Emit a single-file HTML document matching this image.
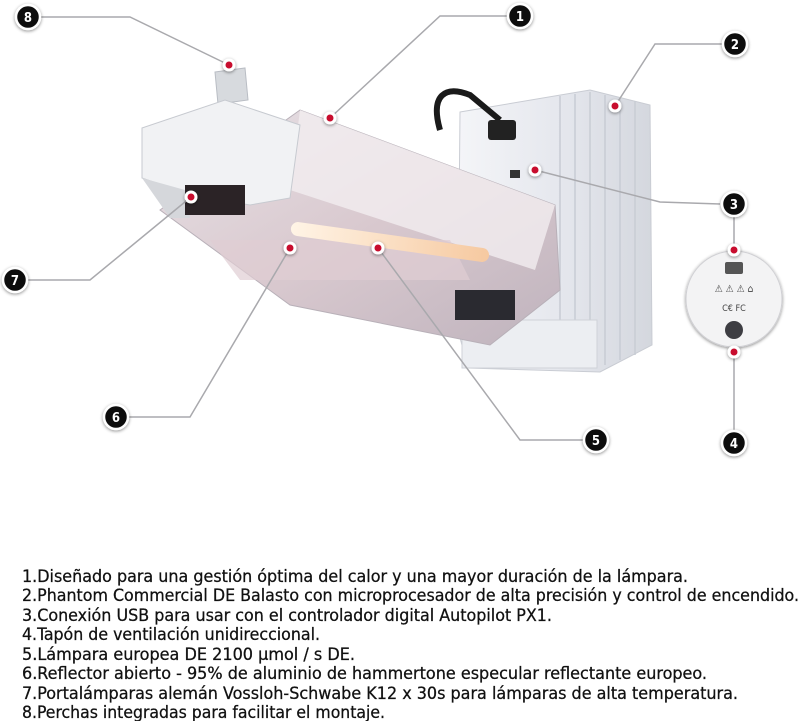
<!DOCTYPE html>
<html><head><meta charset="utf-8"><style>
html,body{margin:0;padding:0;background:#fff}
svg{display:block}
text{font-family:"DejaVu Sans Condensed","Liberation Sans",sans-serif}
</style></head><body>
<svg width="800" height="721" viewBox="0 0 800 721" xmlns="http://www.w3.org/2000/svg">
<defs>
<linearGradient id="bal" x1="0" x2="1"><stop offset="0" stop-color="#f4f5f8"/><stop offset="0.5" stop-color="#e6e8ee"/><stop offset="1" stop-color="#d4d7de"/></linearGradient>
<linearGradient id="refl" x1="0" y1="0" x2="1" y2="1"><stop offset="0" stop-color="#e8e2e6"/><stop offset="0.5" stop-color="#d9c9cf"/><stop offset="1" stop-color="#bfb3bd"/></linearGradient>
<linearGradient id="lamp" x1="0" x2="1"><stop offset="0" stop-color="#fff4e6"/><stop offset="1" stop-color="#f6c9a0"/></linearGradient>
<filter id="sh" x="-50%" y="-50%" width="200%" height="200%"><feDropShadow dx="0" dy="1" stdDeviation="1.5" flood-color="#000" flood-opacity="0.45"/></filter>
</defs>
<polygon points="460,112 590,90 650,105 652,345 600,372 468,368 458,330" fill="url(#bal)" stroke="#c9ccd3"/>
<g stroke="#c8ccd4" stroke-width="1.5">
<line x1="560" y1="96" x2="560" y2="368"/><line x1="575" y1="94" x2="575" y2="368"/><line x1="590" y1="92" x2="590" y2="368"/><line x1="605" y1="95" x2="605" y2="365"/><line x1="620" y1="98" x2="620" y2="360"/><line x1="635" y1="101" x2="635" y2="355"/>
</g>
<rect x="462" y="320" width="135" height="48" fill="#eceef2" stroke="#cfd2d8"/>
<path d="M440,130 C430,95 445,85 470,95 L500,120" fill="none" stroke="#1a1a1a" stroke-width="6"/>
<rect x="488" y="120" width="28" height="20" rx="3" fill="#222"/>
<rect x="510" y="170" width="10" height="8" fill="#333"/>
<polygon points="215,72 245,68 248,100 218,104" fill="#d7dade" stroke="#b9bdc4"/>
<polygon points="160,210 300,110 555,205 560,290 490,345 290,305" fill="url(#refl)" stroke="#b8b0b8"/>
<polygon points="300,110 555,205 535,270 290,190" fill="#f2eef0" opacity="0.8"/>
<polygon points="210,240 450,240 470,280 240,280" fill="#e0cdd3" opacity="0.7"/>
<rect x="290" y="235" width="200" height="14" rx="7" fill="url(#lamp)" transform="rotate(8 390 242)"/>
<rect x="455" y="290" width="60" height="30" fill="#2a2a30"/>
<polygon points="142,128 225,100 300,125 290,198 250,205 190,195 142,178" fill="#f1f2f4" stroke="#c7cad0"/>
<polygon points="142,178 185,190 190,218 170,218" fill="#d5d7db"/>
<rect x="185" y="185" width="60" height="30" fill="#2b2326"/>
<circle cx="734" cy="299" r="48" fill="#f3f3f4" stroke="#d0d0d4" filter="url(#sh)"/>
<rect x="725" y="262" width="18" height="12" rx="2" fill="#555"/>
<text x="734" y="292" font-size="10" text-anchor="middle" fill="#444">⚠ ⚠ ⚠ ⌂</text>
<text x="734" y="311" font-size="9" text-anchor="middle" fill="#444">C€ FC</text>
<circle cx="734" cy="330" r="9" fill="#3d3d42"/>
<g fill="none" stroke="#a9a9ad" stroke-width="1.5">
<polyline points="40,17 130,17 229,65"/>
<polyline points="508,16 440,16 330,118"/>
<polyline points="722,44 655,44 615,106"/>
<polyline points="720,204 660,202 535,170"/>
<polyline points="28,280 90,280 191,197"/>
<polyline points="128,417 190,417 290,248"/>
<polyline points="583,440 520,440 378,248"/>
<line x1="734" y1="430" x2="734" y2="352"/>
<line x1="734" y1="210" x2="734" y2="250"/>
</g>
<g fill="#c8102e" stroke="#fff" stroke-width="3" filter="url(#sh)">
<circle cx="229" cy="65" r="5"/><circle cx="330" cy="118" r="5"/><circle cx="615" cy="106" r="5"/><circle cx="535" cy="170" r="5"/>
<circle cx="191" cy="197" r="5"/><circle cx="290" cy="248" r="5"/><circle cx="378" cy="248" r="5"/><circle cx="734" cy="250" r="5"/><circle cx="734" cy="352" r="5"/>
</g>
<g filter="url(#sh)">
<g fill="#111" stroke="#fff" stroke-width="2.5">
<circle cx="28" cy="17" r="12"/><circle cx="520" cy="16" r="12"/><circle cx="735" cy="44" r="12"/><circle cx="734" cy="204" r="12"/>
<circle cx="15" cy="280" r="12"/><circle cx="116" cy="417" r="12"/><circle cx="596" cy="440" r="12"/><circle cx="734" cy="443" r="12"/>
</g></g>
<g fill="#fff" font-size="13" font-weight="bold" text-anchor="middle" style="font-family:'Liberation Sans',sans-serif">
<text x="28" y="22">8</text><text x="520" y="21">1</text><text x="735" y="49">2</text><text x="734" y="209">3</text>
<text x="15" y="285">7</text><text x="116" y="422">6</text><text x="596" y="445">5</text><text x="734" y="448">4</text>
</g>
<g font-size="16.5" fill="#111" stroke="#111" stroke-width="0.25">
<text x="22" y="582" textLength="666" lengthAdjust="spacingAndGlyphs">1.Diseñado para una gestión óptima del calor y una mayor duración de la lámpara.</text>
<text x="22" y="601" textLength="777" lengthAdjust="spacingAndGlyphs">2.Phantom Commercial DE Balasto con microprocesador de alta precisión y control de encendido.</text>
<text x="22" y="621" textLength="530" lengthAdjust="spacingAndGlyphs">3.Conexión USB para usar con el controlador digital Autopilot PX1.</text>
<text x="22" y="640" textLength="298" lengthAdjust="spacingAndGlyphs">4.Tapón de ventilación unidireccional.</text>
<text x="22" y="660" textLength="333" lengthAdjust="spacingAndGlyphs">5.Lámpara europea DE 2100 µmol / s DE.</text>
<text x="22" y="679" textLength="685" lengthAdjust="spacingAndGlyphs">6.Reflector abierto - 95% de aluminio de hammertone especular reflectante europeo.</text>
<text x="22" y="699" textLength="716" lengthAdjust="spacingAndGlyphs">7.Portalámparas alemán Vossloh-Schwabe K12 x 30s para lámparas de alta temperatura.</text>
<text x="22" y="718" textLength="363" lengthAdjust="spacingAndGlyphs">8.Perchas integradas para facilitar el montaje.</text>
</g>
</svg>
</body></html>
